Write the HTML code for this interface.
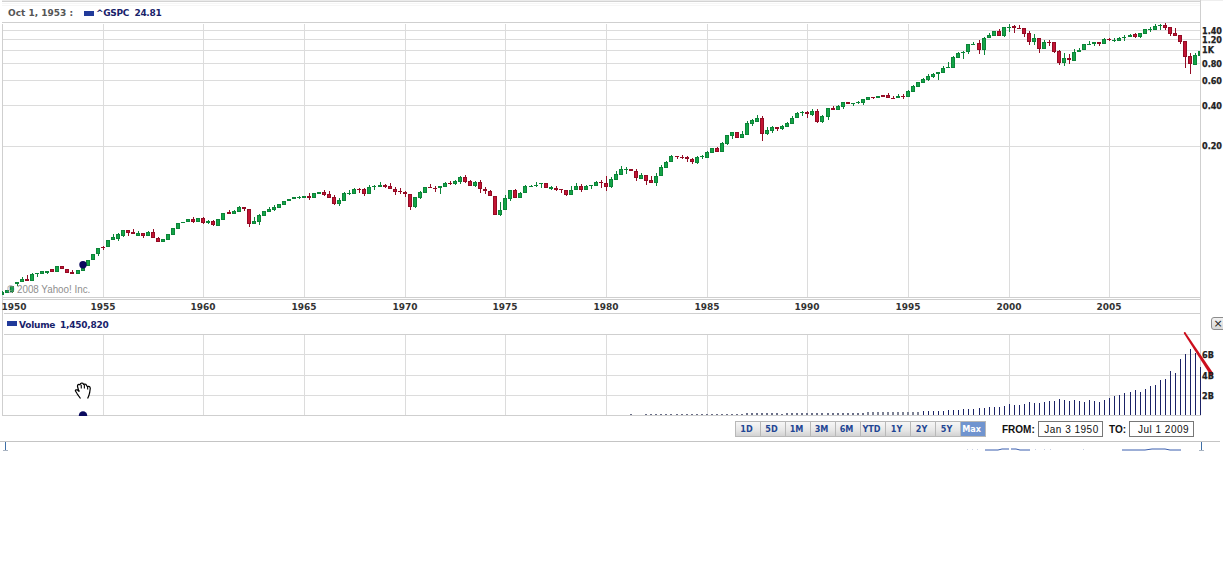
<!DOCTYPE html>
<html><head><meta charset="utf-8"><title>^GSPC chart</title>
<style>
html,body{margin:0;padding:0;background:#fff;width:1223px;height:572px;overflow:hidden;position:relative}
.t{position:absolute;white-space:nowrap;font-family:"DejaVu Sans",sans-serif;font-weight:bold;line-height:1}
.c{font-family:"DejaVu Sans Condensed","DejaVu Sans",sans-serif;font-stretch:condensed}
svg{position:absolute;left:0;top:0}
.btns{position:absolute;left:735px;top:421px;height:14px;display:flex;border:1px solid #b8b8b8;border-right:none}
.btns span{display:block;width:21px;padding-right:3px;height:14px;border-right:1px solid #b8b8b8;background:linear-gradient(#f6f6f6,#e6e6e6 60%,#d2d2d2);color:#1f4694;font:bold 9px "DejaVu Sans Condensed","DejaVu Sans",sans-serif;font-stretch:condensed;text-align:center;line-height:14.5px}
.btns span.on{background:#7094cf;color:#fff}
.inp{position:absolute;top:421px;height:14px;border:1px solid #777;background:#fff;font:10px "Liberation Sans",Arial,sans-serif;letter-spacing:0.5px;line-height:16px;text-align:center;color:#111}
.lbl{position:absolute;top:425px;font:bold 10px "Liberation Sans",Arial,sans-serif;color:#111;line-height:1}
</style></head><body>
<svg width="1223" height="572" viewBox="0 0 1223 572" shape-rendering="crispEdges">
<rect x="2" y="30" width="1198" height="1" fill="#dcdcdc"/><rect x="2" y="39" width="1198" height="1" fill="#dcdcdc"/><rect x="2" y="50" width="1198" height="1" fill="#dcdcdc"/><rect x="2" y="63" width="1198" height="1" fill="#dcdcdc"/><rect x="2" y="80" width="1198" height="1" fill="#dcdcdc"/><rect x="2" y="105" width="1198" height="1" fill="#dcdcdc"/><rect x="2" y="146" width="1198" height="1" fill="#dcdcdc"/><rect x="103" y="24" width="1" height="273" fill="#dcdcdc"/><rect x="103" y="335" width="1" height="80" fill="#dcdcdc"/><rect x="203" y="24" width="1" height="273" fill="#dcdcdc"/><rect x="203" y="335" width="1" height="80" fill="#dcdcdc"/><rect x="304" y="24" width="1" height="273" fill="#dcdcdc"/><rect x="304" y="335" width="1" height="80" fill="#dcdcdc"/><rect x="405" y="24" width="1" height="273" fill="#dcdcdc"/><rect x="405" y="335" width="1" height="80" fill="#dcdcdc"/><rect x="505" y="24" width="1" height="273" fill="#dcdcdc"/><rect x="505" y="335" width="1" height="80" fill="#dcdcdc"/><rect x="606" y="24" width="1" height="273" fill="#dcdcdc"/><rect x="606" y="335" width="1" height="80" fill="#dcdcdc"/><rect x="707" y="24" width="1" height="273" fill="#dcdcdc"/><rect x="707" y="335" width="1" height="80" fill="#dcdcdc"/><rect x="807" y="24" width="1" height="273" fill="#dcdcdc"/><rect x="807" y="335" width="1" height="80" fill="#dcdcdc"/><rect x="908" y="24" width="1" height="273" fill="#dcdcdc"/><rect x="908" y="335" width="1" height="80" fill="#dcdcdc"/><rect x="1009" y="24" width="1" height="273" fill="#dcdcdc"/><rect x="1009" y="335" width="1" height="80" fill="#dcdcdc"/><rect x="1109" y="24" width="1" height="273" fill="#dcdcdc"/><rect x="1109" y="335" width="1" height="80" fill="#dcdcdc"/><rect x="2" y="354" width="1198" height="1" fill="#dcdcdc"/><rect x="2" y="375" width="1198" height="1" fill="#dcdcdc"/><rect x="2" y="395" width="1198" height="1" fill="#dcdcdc"/><rect x="2" y="0" width="1199" height="1" fill="#ebebeb"/><rect x="2" y="1" width="1199" height="1" fill="#d3d3d3"/><rect x="2" y="3" width="1198" height="1" fill="#f6f6f6"/><rect x="2" y="5" width="1198" height="1" fill="#f6f6f6"/><rect x="1201" y="0" width="22" height="1" fill="#eeeeee"/><rect x="2" y="22" width="1199" height="1" fill="#cfcfcf"/><rect x="2" y="24" width="1" height="392" fill="#cfcfcf"/><rect x="1200" y="0" width="1" height="416" fill="#cfcfcf"/><rect x="2" y="297" width="1199" height="1" fill="#cfcfcf"/><rect x="2" y="299" width="1199" height="1" fill="#cfcfcf"/><rect x="4" y="313" width="1197" height="1" fill="#cfcfcf"/><rect x="4" y="334" width="1197" height="1" fill="#cfcfcf"/><rect x="2" y="415" width="1199" height="1" fill="#cfcfcf"/><rect x="0" y="441" width="1220" height="1" fill="#c4c4c4"/><rect x="5" y="442" width="1" height="9" fill="#3f6fa6"/><rect x="3" y="450" width="5" height="1" fill="#a9b4c2"/><rect x="1201" y="442" width="1" height="9" fill="#3f6fa6"/><rect x="1199" y="450" width="5" height="1" fill="#a9b4c2"/>
<rect x="630" y="414" width="2" height="1" fill="#6b7088"/><rect x="645" y="414" width="2" height="1" fill="#6b7088"/><rect x="650" y="414" width="2" height="1" fill="#6b7088"/><rect x="655" y="414" width="2" height="1" fill="#6b7088"/><rect x="660" y="414" width="2" height="1" fill="#6b7088"/><rect x="665" y="414" width="2" height="1" fill="#6b7088"/><rect x="670" y="414" width="2" height="1" fill="#6b7088"/><rect x="676" y="414" width="2" height="1" fill="#6b7088"/><rect x="681" y="414" width="2" height="1" fill="#6b7088"/><rect x="686" y="414" width="2" height="1" fill="#6b7088"/><rect x="691" y="414" width="2" height="1" fill="#6b7088"/><rect x="696" y="414" width="2" height="1" fill="#6b7088"/><rect x="701" y="414" width="2" height="1" fill="#6b7088"/><rect x="706" y="414" width="2" height="1" fill="#6b7088"/><rect x="711" y="414" width="2" height="1" fill="#6b7088"/><rect x="716" y="414" width="2" height="1" fill="#6b7088"/><rect x="721" y="414" width="2" height="1" fill="#6b7088"/><rect x="726" y="414" width="2" height="1" fill="#6b7088"/><rect x="731" y="414" width="2" height="1" fill="#6b7088"/><rect x="736" y="414" width="2" height="1" fill="#6b7088"/><rect x="741" y="414" width="2" height="1" fill="#6b7088"/><rect x="746" y="413" width="2" height="2" fill="#6b7088"/><rect x="751" y="413" width="2" height="2" fill="#6b7088"/><rect x="756" y="413" width="2" height="2" fill="#6b7088"/><rect x="761" y="413" width="2" height="2" fill="#6b7088"/><rect x="766" y="413" width="2" height="2" fill="#6b7088"/><rect x="771" y="413" width="2" height="2" fill="#6b7088"/><rect x="776" y="413" width="2" height="2" fill="#6b7088"/><rect x="781" y="414" width="2" height="1" fill="#6b7088"/><rect x="786" y="413" width="2" height="2" fill="#6b7088"/><rect x="791" y="413" width="2" height="2" fill="#6b7088"/><rect x="796" y="413" width="2" height="2" fill="#6b7088"/><rect x="801" y="413" width="2" height="2" fill="#6b7088"/><rect x="806" y="413" width="2" height="2" fill="#6b7088"/><rect x="811" y="413" width="2" height="2" fill="#6b7088"/><rect x="816" y="413" width="2" height="2" fill="#6b7088"/><rect x="821" y="413" width="2" height="2" fill="#6b7088"/><rect x="827" y="413" width="2" height="2" fill="#6b7088"/><rect x="832" y="413" width="2" height="2" fill="#6b7088"/><rect x="837" y="413" width="2" height="2" fill="#6b7088"/><rect x="842" y="413" width="2" height="2" fill="#6b7088"/><rect x="847" y="413" width="2" height="2" fill="#6b7088"/><rect x="852" y="413" width="2" height="2" fill="#6b7088"/><rect x="857" y="413" width="2" height="2" fill="#6b7088"/><rect x="862" y="413" width="2" height="2" fill="#6b7088"/><rect x="867" y="412" width="2" height="3" fill="#7d8295"/><rect x="872" y="412" width="2" height="3" fill="#7d8295"/><rect x="877" y="412" width="2" height="3" fill="#7d8295"/><rect x="882" y="412" width="2" height="3" fill="#7d8295"/><rect x="887" y="412" width="2" height="3" fill="#7d8295"/><rect x="892" y="412" width="2" height="3" fill="#7d8295"/><rect x="897" y="412" width="2" height="3" fill="#7d8295"/><rect x="902" y="412" width="2" height="3" fill="#7d8295"/><rect x="907" y="412" width="2" height="3" fill="#7d8295"/><rect x="912" y="412" width="2" height="3" fill="#7d8295"/><rect x="917" y="412" width="2" height="3" fill="#7d8295"/><rect x="923" y="411" width="1" height="4" fill="#1b2266"/><rect x="928" y="411" width="1" height="4" fill="#1b2266"/><rect x="933" y="411" width="1" height="4" fill="#1b2266"/><rect x="938" y="411" width="1" height="4" fill="#1b2266"/><rect x="943" y="411" width="1" height="4" fill="#1b2266"/><rect x="948" y="410" width="1" height="5" fill="#1b2266"/><rect x="953" y="410" width="1" height="5" fill="#1b2266"/><rect x="958" y="410" width="1" height="5" fill="#1b2266"/><rect x="963" y="409" width="1" height="6" fill="#1b2266"/><rect x="968" y="409" width="1" height="6" fill="#1b2266"/><rect x="973" y="409" width="1" height="6" fill="#1b2266"/><rect x="979" y="408" width="1" height="7" fill="#1b2266"/><rect x="984" y="408" width="1" height="7" fill="#1b2266"/><rect x="989" y="407" width="1" height="8" fill="#1b2266"/><rect x="994" y="407" width="1" height="8" fill="#1b2266"/><rect x="999" y="407" width="1" height="8" fill="#1b2266"/><rect x="1004" y="406" width="1" height="9" fill="#1b2266"/><rect x="1009" y="404" width="1" height="11" fill="#1b2266"/><rect x="1014" y="405" width="1" height="10" fill="#1b2266"/><rect x="1019" y="405" width="1" height="10" fill="#1b2266"/><rect x="1024" y="404" width="1" height="11" fill="#1b2266"/><rect x="1029" y="402" width="1" height="13" fill="#1b2266"/><rect x="1034" y="403" width="1" height="12" fill="#1b2266"/><rect x="1039" y="403" width="1" height="12" fill="#1b2266"/><rect x="1044" y="402" width="1" height="13" fill="#1b2266"/><rect x="1049" y="401" width="1" height="14" fill="#1b2266"/><rect x="1054" y="401" width="1" height="14" fill="#1b2266"/><rect x="1059" y="399" width="1" height="16" fill="#1b2266"/><rect x="1064" y="400" width="1" height="15" fill="#1b2266"/><rect x="1069" y="401" width="1" height="14" fill="#1b2266"/><rect x="1074" y="400" width="1" height="15" fill="#1b2266"/><rect x="1079" y="401" width="1" height="14" fill="#1b2266"/><rect x="1084" y="402" width="1" height="13" fill="#1b2266"/><rect x="1089" y="400" width="1" height="15" fill="#1b2266"/><rect x="1094" y="401" width="1" height="14" fill="#1b2266"/><rect x="1099" y="402" width="1" height="13" fill="#1b2266"/><rect x="1104" y="400" width="1" height="15" fill="#1b2266"/><rect x="1109" y="398" width="1" height="17" fill="#1b2266"/><rect x="1114" y="396" width="1" height="19" fill="#1b2266"/><rect x="1119" y="395" width="1" height="20" fill="#1b2266"/><rect x="1124" y="393" width="1" height="22" fill="#1b2266"/><rect x="1130" y="392" width="1" height="23" fill="#1b2266"/><rect x="1135" y="390" width="1" height="25" fill="#1b2266"/><rect x="1140" y="392" width="1" height="23" fill="#1b2266"/><rect x="1145" y="389" width="1" height="26" fill="#1b2266"/><rect x="1150" y="386" width="1" height="29" fill="#1b2266"/><rect x="1155" y="385" width="1" height="30" fill="#1b2266"/><rect x="1160" y="380" width="1" height="35" fill="#1b2266"/><rect x="1165" y="379" width="1" height="36" fill="#1b2266"/><rect x="1170" y="371" width="1" height="44" fill="#1b2266"/><rect x="1175" y="373" width="1" height="42" fill="#1b2266"/><rect x="1180" y="359" width="1" height="56" fill="#1b2266"/><rect x="1185" y="354" width="1" height="61" fill="#1b2266"/><rect x="1190" y="349" width="1" height="66" fill="#1b2266"/><rect x="1195" y="353" width="1" height="62" fill="#1b2266"/><rect x="1200" y="367" width="1" height="48" fill="#1b2266"/>
<rect x="2" y="291" width="1" height="1" fill="#0c8438"/><rect x="2" y="292" width="2" height="3" fill="#0c8438"/><rect x="5" y="290" width="4" height="3" fill="#0c8438"/><rect x="6" y="291" width="2" height="1" fill="#13a447"/><rect x="12" y="292" width="1" height="1" fill="#0c8438"/><rect x="10" y="286" width="4" height="6" fill="#0c8438"/><rect x="11" y="287" width="2" height="4" fill="#13a447"/><rect x="17" y="284" width="1" height="2" fill="#0c8438"/><rect x="15" y="282" width="4" height="2" fill="#0c8438"/><rect x="22" y="277" width="1" height="2" fill="#0c8438"/><rect x="20" y="279" width="4" height="3" fill="#0c8438"/><rect x="21" y="280" width="2" height="1" fill="#13a447"/><rect x="27" y="275" width="1" height="4" fill="#930c25"/><rect x="25" y="279" width="4" height="2" fill="#930c25"/><rect x="32" y="273" width="1" height="1" fill="#0c8438"/><rect x="30" y="274" width="4" height="7" fill="#0c8438"/><rect x="31" y="275" width="2" height="5" fill="#13a447"/><rect x="37" y="274" width="1" height="3" fill="#0c8438"/><rect x="35" y="273" width="4" height="1" fill="#0c8438"/><rect x="40" y="271" width="4" height="3" fill="#0c8438"/><rect x="41" y="272" width="2" height="1" fill="#13a447"/><rect x="47" y="273" width="1" height="1" fill="#0c8438"/><rect x="45" y="271" width="4" height="2" fill="#0c8438"/><rect x="50" y="269" width="4" height="3" fill="#930c25"/><rect x="51" y="270" width="2" height="1" fill="#c31433"/><rect x="55" y="266" width="4" height="6" fill="#0c8438"/><rect x="56" y="267" width="2" height="4" fill="#13a447"/><rect x="60" y="266" width="4" height="3" fill="#930c25"/><rect x="61" y="267" width="2" height="1" fill="#c31433"/><rect x="65" y="269" width="4" height="4" fill="#930c25"/><rect x="66" y="270" width="2" height="2" fill="#c31433"/><rect x="72" y="270" width="1" height="2" fill="#930c25"/><rect x="70" y="272" width="4" height="2" fill="#930c25"/><rect x="76" y="270" width="4" height="4" fill="#0c8438"/><rect x="77" y="271" width="2" height="2" fill="#13a447"/><rect x="81" y="268" width="4" height="3" fill="#0c8438"/><rect x="82" y="269" width="2" height="1" fill="#13a447"/><rect x="86" y="260" width="4" height="6" fill="#0c8438"/><rect x="87" y="261" width="2" height="4" fill="#13a447"/><rect x="91" y="254" width="4" height="6" fill="#0c8438"/><rect x="92" y="255" width="2" height="4" fill="#13a447"/><rect x="98" y="254" width="1" height="2" fill="#0c8438"/><rect x="96" y="248" width="4" height="6" fill="#0c8438"/><rect x="97" y="249" width="2" height="4" fill="#13a447"/><rect x="103" y="246" width="1" height="1" fill="#930c25"/><rect x="103" y="248" width="1" height="2" fill="#930c25"/><rect x="101" y="247" width="4" height="1" fill="#930c25"/><rect x="106" y="240" width="4" height="7" fill="#0c8438"/><rect x="107" y="241" width="2" height="5" fill="#13a447"/><rect x="113" y="234" width="1" height="3" fill="#0c8438"/><rect x="111" y="237" width="4" height="3" fill="#0c8438"/><rect x="112" y="238" width="2" height="1" fill="#13a447"/><rect x="118" y="233" width="1" height="1" fill="#0c8438"/><rect x="118" y="239" width="1" height="2" fill="#0c8438"/><rect x="116" y="234" width="4" height="5" fill="#0c8438"/><rect x="117" y="235" width="2" height="3" fill="#13a447"/><rect x="123" y="236" width="1" height="1" fill="#0c8438"/><rect x="121" y="230" width="4" height="6" fill="#0c8438"/><rect x="122" y="231" width="2" height="4" fill="#13a447"/><rect x="128" y="233" width="1" height="3" fill="#930c25"/><rect x="126" y="230" width="4" height="3" fill="#930c25"/><rect x="127" y="231" width="2" height="1" fill="#c31433"/><rect x="133" y="229" width="1" height="3" fill="#930c25"/><rect x="131" y="232" width="4" height="2" fill="#930c25"/><rect x="138" y="231" width="1" height="2" fill="#0c8438"/><rect x="136" y="233" width="4" height="3" fill="#0c8438"/><rect x="137" y="234" width="2" height="1" fill="#13a447"/><rect x="143" y="236" width="1" height="2" fill="#930c25"/><rect x="141" y="233" width="4" height="3" fill="#930c25"/><rect x="142" y="234" width="2" height="1" fill="#c31433"/><rect x="148" y="231" width="1" height="1" fill="#0c8438"/><rect x="146" y="232" width="4" height="4" fill="#0c8438"/><rect x="147" y="233" width="2" height="2" fill="#13a447"/><rect x="153" y="229" width="1" height="3" fill="#930c25"/><rect x="151" y="232" width="4" height="6" fill="#930c25"/><rect x="152" y="233" width="2" height="4" fill="#c31433"/><rect x="158" y="237" width="1" height="1" fill="#930c25"/><rect x="156" y="238" width="4" height="4" fill="#930c25"/><rect x="157" y="239" width="2" height="2" fill="#c31433"/><rect x="161" y="239" width="4" height="3" fill="#0c8438"/><rect x="162" y="240" width="2" height="1" fill="#13a447"/><rect x="166" y="234" width="4" height="6" fill="#0c8438"/><rect x="167" y="235" width="2" height="4" fill="#13a447"/><rect x="171" y="228" width="4" height="7" fill="#0c8438"/><rect x="172" y="229" width="2" height="5" fill="#13a447"/><rect x="176" y="223" width="4" height="6" fill="#0c8438"/><rect x="177" y="224" width="2" height="4" fill="#13a447"/><rect x="181" y="222" width="4" height="1" fill="#0c8438"/><rect x="186" y="219" width="4" height="3" fill="#0c8438"/><rect x="187" y="220" width="2" height="1" fill="#13a447"/><rect x="193" y="217" width="1" height="2" fill="#930c25"/><rect x="193" y="222" width="1" height="1" fill="#930c25"/><rect x="191" y="219" width="4" height="3" fill="#930c25"/><rect x="192" y="220" width="2" height="1" fill="#c31433"/><rect x="196" y="218" width="4" height="4" fill="#0c8438"/><rect x="197" y="219" width="2" height="2" fill="#13a447"/><rect x="203" y="217" width="1" height="1" fill="#930c25"/><rect x="203" y="223" width="1" height="1" fill="#930c25"/><rect x="201" y="218" width="4" height="5" fill="#930c25"/><rect x="202" y="219" width="2" height="3" fill="#c31433"/><rect x="208" y="220" width="1" height="1" fill="#0c8438"/><rect x="208" y="223" width="1" height="1" fill="#0c8438"/><rect x="206" y="221" width="4" height="2" fill="#0c8438"/><rect x="213" y="220" width="1" height="1" fill="#930c25"/><rect x="213" y="225" width="1" height="1" fill="#930c25"/><rect x="211" y="221" width="4" height="4" fill="#930c25"/><rect x="212" y="222" width="2" height="2" fill="#c31433"/><rect x="216" y="219" width="4" height="7" fill="#0c8438"/><rect x="217" y="220" width="2" height="5" fill="#13a447"/><rect x="221" y="213" width="4" height="7" fill="#0c8438"/><rect x="222" y="214" width="2" height="5" fill="#13a447"/><rect x="229" y="210" width="1" height="2" fill="#930c25"/><rect x="227" y="212" width="4" height="2" fill="#930c25"/><rect x="234" y="210" width="1" height="1" fill="#0c8438"/><rect x="232" y="211" width="4" height="3" fill="#0c8438"/><rect x="233" y="212" width="2" height="1" fill="#13a447"/><rect x="239" y="206" width="1" height="1" fill="#0c8438"/><rect x="237" y="207" width="4" height="5" fill="#0c8438"/><rect x="238" y="208" width="2" height="3" fill="#13a447"/><rect x="244" y="209" width="1" height="2" fill="#930c25"/><rect x="242" y="207" width="4" height="2" fill="#930c25"/><rect x="249" y="224" width="1" height="3" fill="#930c25"/><rect x="247" y="209" width="4" height="15" fill="#930c25"/><rect x="248" y="210" width="2" height="13" fill="#c31433"/><rect x="254" y="217" width="1" height="4" fill="#0c8438"/><rect x="252" y="221" width="4" height="3" fill="#0c8438"/><rect x="253" y="222" width="2" height="1" fill="#13a447"/><rect x="259" y="214" width="1" height="1" fill="#0c8438"/><rect x="259" y="222" width="1" height="3" fill="#0c8438"/><rect x="257" y="215" width="4" height="7" fill="#0c8438"/><rect x="258" y="216" width="2" height="5" fill="#13a447"/><rect x="262" y="211" width="4" height="5" fill="#0c8438"/><rect x="263" y="212" width="2" height="3" fill="#13a447"/><rect x="269" y="207" width="1" height="2" fill="#0c8438"/><rect x="267" y="209" width="4" height="3" fill="#0c8438"/><rect x="268" y="210" width="2" height="1" fill="#13a447"/><rect x="274" y="205" width="1" height="2" fill="#0c8438"/><rect x="274" y="210" width="1" height="1" fill="#0c8438"/><rect x="272" y="207" width="4" height="3" fill="#0c8438"/><rect x="273" y="208" width="2" height="1" fill="#13a447"/><rect x="277" y="204" width="4" height="4" fill="#0c8438"/><rect x="278" y="205" width="2" height="2" fill="#13a447"/><rect x="282" y="201" width="4" height="4" fill="#0c8438"/><rect x="283" y="202" width="2" height="2" fill="#13a447"/><rect x="287" y="199" width="4" height="2" fill="#0c8438"/><rect x="292" y="197" width="4" height="2" fill="#0c8438"/><rect x="299" y="196" width="1" height="1" fill="#0c8438"/><rect x="299" y="198" width="1" height="1" fill="#0c8438"/><rect x="297" y="197" width="4" height="1" fill="#0c8438"/><rect x="302" y="196" width="4" height="2" fill="#0c8438"/><rect x="309" y="193" width="1" height="3" fill="#930c25"/><rect x="309" y="198" width="1" height="2" fill="#930c25"/><rect x="307" y="196" width="4" height="2" fill="#930c25"/><rect x="312" y="193" width="4" height="5" fill="#0c8438"/><rect x="313" y="194" width="2" height="3" fill="#13a447"/><rect x="317" y="192" width="4" height="2" fill="#0c8438"/><rect x="324" y="190" width="1" height="2" fill="#930c25"/><rect x="324" y="195" width="1" height="1" fill="#930c25"/><rect x="322" y="192" width="4" height="3" fill="#930c25"/><rect x="323" y="193" width="2" height="1" fill="#c31433"/><rect x="329" y="191" width="1" height="3" fill="#930c25"/><rect x="327" y="194" width="4" height="4" fill="#930c25"/><rect x="328" y="195" width="2" height="2" fill="#c31433"/><rect x="334" y="195" width="1" height="2" fill="#930c25"/><rect x="334" y="204" width="1" height="1" fill="#930c25"/><rect x="332" y="197" width="4" height="7" fill="#930c25"/><rect x="333" y="198" width="2" height="5" fill="#c31433"/><rect x="339" y="198" width="1" height="2" fill="#0c8438"/><rect x="339" y="204" width="1" height="2" fill="#0c8438"/><rect x="337" y="200" width="4" height="4" fill="#0c8438"/><rect x="338" y="201" width="2" height="2" fill="#13a447"/><rect x="344" y="192" width="1" height="1" fill="#0c8438"/><rect x="342" y="193" width="4" height="8" fill="#0c8438"/><rect x="343" y="194" width="2" height="6" fill="#13a447"/><rect x="349" y="190" width="1" height="3" fill="#0c8438"/><rect x="349" y="194" width="1" height="1" fill="#0c8438"/><rect x="347" y="193" width="4" height="1" fill="#0c8438"/><rect x="354" y="188" width="1" height="1" fill="#0c8438"/><rect x="352" y="189" width="4" height="5" fill="#0c8438"/><rect x="353" y="190" width="2" height="3" fill="#13a447"/><rect x="359" y="188" width="1" height="1" fill="#930c25"/><rect x="359" y="190" width="1" height="3" fill="#930c25"/><rect x="357" y="189" width="4" height="1" fill="#930c25"/><rect x="364" y="188" width="1" height="1" fill="#930c25"/><rect x="364" y="194" width="1" height="2" fill="#930c25"/><rect x="362" y="189" width="4" height="5" fill="#930c25"/><rect x="363" y="190" width="2" height="3" fill="#c31433"/><rect x="369" y="185" width="1" height="2" fill="#0c8438"/><rect x="367" y="187" width="4" height="7" fill="#0c8438"/><rect x="368" y="188" width="2" height="5" fill="#13a447"/><rect x="374" y="185" width="1" height="1" fill="#0c8438"/><rect x="374" y="187" width="1" height="3" fill="#0c8438"/><rect x="372" y="186" width="4" height="1" fill="#0c8438"/><rect x="380" y="182" width="1" height="3" fill="#0c8438"/><rect x="378" y="185" width="4" height="2" fill="#0c8438"/><rect x="385" y="184" width="1" height="1" fill="#930c25"/><rect x="385" y="187" width="1" height="1" fill="#930c25"/><rect x="383" y="185" width="4" height="2" fill="#930c25"/><rect x="390" y="183" width="1" height="3" fill="#930c25"/><rect x="388" y="186" width="4" height="3" fill="#930c25"/><rect x="389" y="187" width="2" height="1" fill="#c31433"/><rect x="395" y="187" width="1" height="2" fill="#930c25"/><rect x="395" y="192" width="1" height="3" fill="#930c25"/><rect x="393" y="189" width="4" height="3" fill="#930c25"/><rect x="394" y="190" width="2" height="1" fill="#c31433"/><rect x="400" y="188" width="1" height="3" fill="#930c25"/><rect x="400" y="192" width="1" height="2" fill="#930c25"/><rect x="398" y="191" width="4" height="1" fill="#930c25"/><rect x="405" y="191" width="1" height="1" fill="#930c25"/><rect x="405" y="194" width="1" height="3" fill="#930c25"/><rect x="403" y="192" width="4" height="2" fill="#930c25"/><rect x="410" y="207" width="1" height="3" fill="#930c25"/><rect x="408" y="194" width="4" height="13" fill="#930c25"/><rect x="409" y="195" width="2" height="11" fill="#c31433"/><rect x="415" y="207" width="1" height="1" fill="#0c8438"/><rect x="413" y="197" width="4" height="10" fill="#0c8438"/><rect x="414" y="198" width="2" height="8" fill="#13a447"/><rect x="420" y="191" width="1" height="1" fill="#0c8438"/><rect x="420" y="198" width="1" height="1" fill="#0c8438"/><rect x="418" y="192" width="4" height="6" fill="#0c8438"/><rect x="419" y="193" width="2" height="4" fill="#13a447"/><rect x="423" y="187" width="4" height="6" fill="#0c8438"/><rect x="424" y="188" width="2" height="4" fill="#13a447"/><rect x="430" y="184" width="1" height="3" fill="#930c25"/><rect x="428" y="187" width="4" height="1" fill="#930c25"/><rect x="435" y="186" width="1" height="2" fill="#930c25"/><rect x="435" y="189" width="1" height="3" fill="#930c25"/><rect x="433" y="188" width="4" height="1" fill="#930c25"/><rect x="440" y="188" width="1" height="6" fill="#0c8438"/><rect x="438" y="186" width="4" height="2" fill="#0c8438"/><rect x="445" y="182" width="1" height="1" fill="#0c8438"/><rect x="443" y="183" width="4" height="4" fill="#0c8438"/><rect x="444" y="184" width="2" height="2" fill="#13a447"/><rect x="450" y="181" width="1" height="2" fill="#930c25"/><rect x="450" y="184" width="1" height="1" fill="#930c25"/><rect x="448" y="183" width="4" height="1" fill="#930c25"/><rect x="455" y="180" width="1" height="1" fill="#0c8438"/><rect x="455" y="184" width="1" height="1" fill="#0c8438"/><rect x="453" y="181" width="4" height="3" fill="#0c8438"/><rect x="454" y="182" width="2" height="1" fill="#13a447"/><rect x="460" y="176" width="1" height="1" fill="#0c8438"/><rect x="460" y="182" width="1" height="2" fill="#0c8438"/><rect x="458" y="177" width="4" height="5" fill="#0c8438"/><rect x="459" y="178" width="2" height="3" fill="#13a447"/><rect x="465" y="175" width="1" height="2" fill="#930c25"/><rect x="465" y="182" width="1" height="1" fill="#930c25"/><rect x="463" y="177" width="4" height="5" fill="#930c25"/><rect x="464" y="178" width="2" height="3" fill="#c31433"/><rect x="470" y="180" width="1" height="1" fill="#930c25"/><rect x="468" y="181" width="4" height="5" fill="#930c25"/><rect x="469" y="182" width="2" height="3" fill="#c31433"/><rect x="475" y="181" width="1" height="1" fill="#0c8438"/><rect x="475" y="186" width="1" height="1" fill="#0c8438"/><rect x="473" y="182" width="4" height="4" fill="#0c8438"/><rect x="474" y="183" width="2" height="2" fill="#13a447"/><rect x="480" y="180" width="1" height="2" fill="#930c25"/><rect x="480" y="189" width="1" height="4" fill="#930c25"/><rect x="478" y="182" width="4" height="7" fill="#930c25"/><rect x="479" y="183" width="2" height="5" fill="#c31433"/><rect x="485" y="187" width="1" height="2" fill="#930c25"/><rect x="485" y="191" width="1" height="3" fill="#930c25"/><rect x="483" y="189" width="4" height="2" fill="#930c25"/><rect x="490" y="190" width="1" height="1" fill="#930c25"/><rect x="488" y="191" width="4" height="5" fill="#930c25"/><rect x="489" y="192" width="2" height="3" fill="#c31433"/><rect x="493" y="196" width="4" height="19" fill="#930c25"/><rect x="494" y="197" width="2" height="17" fill="#c31433"/><rect x="500" y="202" width="1" height="8" fill="#0c8438"/><rect x="500" y="215" width="1" height="1" fill="#0c8438"/><rect x="498" y="210" width="4" height="5" fill="#0c8438"/><rect x="499" y="211" width="2" height="3" fill="#13a447"/><rect x="505" y="195" width="1" height="3" fill="#0c8438"/><rect x="503" y="198" width="4" height="12" fill="#0c8438"/><rect x="504" y="199" width="2" height="10" fill="#13a447"/><rect x="510" y="199" width="1" height="2" fill="#0c8438"/><rect x="508" y="190" width="4" height="9" fill="#0c8438"/><rect x="509" y="191" width="2" height="7" fill="#13a447"/><rect x="515" y="189" width="1" height="1" fill="#930c25"/><rect x="513" y="190" width="4" height="8" fill="#930c25"/><rect x="514" y="191" width="2" height="6" fill="#c31433"/><rect x="520" y="192" width="1" height="1" fill="#0c8438"/><rect x="518" y="193" width="4" height="5" fill="#0c8438"/><rect x="519" y="194" width="2" height="3" fill="#13a447"/><rect x="525" y="185" width="1" height="1" fill="#0c8438"/><rect x="523" y="186" width="4" height="7" fill="#0c8438"/><rect x="524" y="187" width="2" height="5" fill="#13a447"/><rect x="531" y="185" width="1" height="1" fill="#0c8438"/><rect x="529" y="186" width="4" height="1" fill="#0c8438"/><rect x="536" y="182" width="1" height="3" fill="#0c8438"/><rect x="536" y="186" width="1" height="1" fill="#0c8438"/><rect x="534" y="185" width="4" height="1" fill="#0c8438"/><rect x="541" y="184" width="1" height="4" fill="#0c8438"/><rect x="539" y="183" width="4" height="1" fill="#0c8438"/><rect x="544" y="183" width="4" height="5" fill="#930c25"/><rect x="545" y="184" width="2" height="3" fill="#c31433"/><rect x="551" y="186" width="1" height="1" fill="#0c8438"/><rect x="551" y="189" width="1" height="1" fill="#0c8438"/><rect x="549" y="187" width="4" height="2" fill="#0c8438"/><rect x="556" y="186" width="1" height="2" fill="#930c25"/><rect x="556" y="190" width="1" height="1" fill="#930c25"/><rect x="554" y="188" width="4" height="2" fill="#930c25"/><rect x="561" y="190" width="1" height="3" fill="#930c25"/><rect x="559" y="189" width="4" height="1" fill="#930c25"/><rect x="566" y="195" width="1" height="1" fill="#930c25"/><rect x="564" y="190" width="4" height="5" fill="#930c25"/><rect x="565" y="191" width="2" height="3" fill="#c31433"/><rect x="571" y="186" width="1" height="4" fill="#0c8438"/><rect x="569" y="190" width="4" height="5" fill="#0c8438"/><rect x="570" y="191" width="2" height="3" fill="#13a447"/><rect x="576" y="183" width="1" height="3" fill="#0c8438"/><rect x="574" y="186" width="4" height="4" fill="#0c8438"/><rect x="575" y="187" width="2" height="2" fill="#13a447"/><rect x="581" y="184" width="1" height="2" fill="#930c25"/><rect x="581" y="190" width="1" height="2" fill="#930c25"/><rect x="579" y="186" width="4" height="4" fill="#930c25"/><rect x="580" y="187" width="2" height="2" fill="#c31433"/><rect x="586" y="185" width="1" height="1" fill="#0c8438"/><rect x="584" y="186" width="4" height="4" fill="#0c8438"/><rect x="585" y="187" width="2" height="2" fill="#13a447"/><rect x="591" y="186" width="1" height="3" fill="#0c8438"/><rect x="589" y="185" width="4" height="1" fill="#0c8438"/><rect x="596" y="181" width="1" height="1" fill="#0c8438"/><rect x="594" y="182" width="4" height="4" fill="#0c8438"/><rect x="595" y="183" width="2" height="2" fill="#13a447"/><rect x="601" y="180" width="1" height="2" fill="#930c25"/><rect x="601" y="183" width="1" height="5" fill="#930c25"/><rect x="599" y="182" width="4" height="1" fill="#930c25"/><rect x="606" y="176" width="1" height="7" fill="#930c25"/><rect x="606" y="187" width="1" height="4" fill="#930c25"/><rect x="604" y="183" width="4" height="4" fill="#930c25"/><rect x="605" y="184" width="2" height="2" fill="#c31433"/><rect x="611" y="177" width="1" height="2" fill="#0c8438"/><rect x="611" y="187" width="1" height="1" fill="#0c8438"/><rect x="609" y="179" width="4" height="8" fill="#0c8438"/><rect x="610" y="180" width="2" height="6" fill="#13a447"/><rect x="616" y="171" width="1" height="3" fill="#0c8438"/><rect x="614" y="174" width="4" height="6" fill="#0c8438"/><rect x="615" y="175" width="2" height="4" fill="#13a447"/><rect x="621" y="166" width="1" height="3" fill="#0c8438"/><rect x="619" y="169" width="4" height="6" fill="#0c8438"/><rect x="620" y="170" width="2" height="4" fill="#13a447"/><rect x="626" y="167" width="1" height="2" fill="#0c8438"/><rect x="626" y="170" width="1" height="4" fill="#0c8438"/><rect x="624" y="169" width="4" height="1" fill="#0c8438"/><rect x="629" y="169" width="4" height="2" fill="#930c25"/><rect x="636" y="169" width="1" height="2" fill="#930c25"/><rect x="636" y="178" width="1" height="3" fill="#930c25"/><rect x="634" y="171" width="4" height="7" fill="#930c25"/><rect x="635" y="172" width="2" height="5" fill="#c31433"/><rect x="641" y="173" width="1" height="2" fill="#0c8438"/><rect x="639" y="175" width="4" height="4" fill="#0c8438"/><rect x="640" y="176" width="2" height="2" fill="#13a447"/><rect x="646" y="181" width="1" height="4" fill="#930c25"/><rect x="644" y="175" width="4" height="6" fill="#930c25"/><rect x="645" y="176" width="2" height="4" fill="#c31433"/><rect x="651" y="176" width="1" height="4" fill="#930c25"/><rect x="649" y="180" width="4" height="3" fill="#930c25"/><rect x="650" y="181" width="2" height="1" fill="#c31433"/><rect x="656" y="173" width="1" height="3" fill="#0c8438"/><rect x="656" y="183" width="1" height="3" fill="#0c8438"/><rect x="654" y="176" width="4" height="7" fill="#0c8438"/><rect x="655" y="177" width="2" height="5" fill="#13a447"/><rect x="661" y="165" width="1" height="2" fill="#0c8438"/><rect x="659" y="167" width="4" height="9" fill="#0c8438"/><rect x="660" y="168" width="2" height="7" fill="#13a447"/><rect x="666" y="161" width="1" height="1" fill="#0c8438"/><rect x="664" y="162" width="4" height="6" fill="#0c8438"/><rect x="665" y="163" width="2" height="4" fill="#13a447"/><rect x="671" y="155" width="1" height="1" fill="#0c8438"/><rect x="669" y="156" width="4" height="6" fill="#0c8438"/><rect x="670" y="157" width="2" height="4" fill="#13a447"/><rect x="677" y="157" width="1" height="2" fill="#930c25"/><rect x="675" y="156" width="4" height="1" fill="#930c25"/><rect x="682" y="155" width="1" height="2" fill="#930c25"/><rect x="682" y="158" width="1" height="1" fill="#930c25"/><rect x="680" y="157" width="4" height="1" fill="#930c25"/><rect x="687" y="156" width="1" height="1" fill="#930c25"/><rect x="687" y="159" width="1" height="3" fill="#930c25"/><rect x="685" y="157" width="4" height="2" fill="#930c25"/><rect x="692" y="158" width="1" height="1" fill="#930c25"/><rect x="692" y="162" width="1" height="2" fill="#930c25"/><rect x="690" y="159" width="4" height="3" fill="#930c25"/><rect x="691" y="160" width="2" height="1" fill="#c31433"/><rect x="697" y="156" width="1" height="1" fill="#0c8438"/><rect x="697" y="163" width="1" height="1" fill="#0c8438"/><rect x="695" y="157" width="4" height="6" fill="#0c8438"/><rect x="696" y="158" width="2" height="4" fill="#13a447"/><rect x="702" y="155" width="1" height="1" fill="#0c8438"/><rect x="702" y="157" width="1" height="2" fill="#0c8438"/><rect x="700" y="156" width="4" height="1" fill="#0c8438"/><rect x="707" y="151" width="1" height="1" fill="#0c8438"/><rect x="705" y="152" width="4" height="6" fill="#0c8438"/><rect x="706" y="153" width="2" height="4" fill="#13a447"/><rect x="710" y="148" width="4" height="5" fill="#0c8438"/><rect x="711" y="149" width="2" height="3" fill="#13a447"/><rect x="717" y="147" width="1" height="1" fill="#930c25"/><rect x="715" y="148" width="4" height="4" fill="#930c25"/><rect x="716" y="149" width="2" height="2" fill="#c31433"/><rect x="722" y="142" width="1" height="1" fill="#0c8438"/><rect x="720" y="143" width="4" height="9" fill="#0c8438"/><rect x="721" y="144" width="2" height="7" fill="#13a447"/><rect x="727" y="144" width="1" height="1" fill="#0c8438"/><rect x="725" y="135" width="4" height="9" fill="#0c8438"/><rect x="726" y="136" width="2" height="7" fill="#13a447"/><rect x="732" y="136" width="1" height="3" fill="#0c8438"/><rect x="730" y="132" width="4" height="4" fill="#0c8438"/><rect x="731" y="133" width="2" height="2" fill="#13a447"/><rect x="735" y="132" width="4" height="6" fill="#930c25"/><rect x="736" y="133" width="2" height="4" fill="#c31433"/><rect x="742" y="131" width="1" height="3" fill="#0c8438"/><rect x="740" y="134" width="4" height="4" fill="#0c8438"/><rect x="741" y="135" width="2" height="2" fill="#13a447"/><rect x="747" y="121" width="1" height="2" fill="#0c8438"/><rect x="745" y="123" width="4" height="12" fill="#0c8438"/><rect x="746" y="124" width="2" height="10" fill="#13a447"/><rect x="752" y="119" width="1" height="1" fill="#0c8438"/><rect x="752" y="124" width="1" height="2" fill="#0c8438"/><rect x="750" y="120" width="4" height="4" fill="#0c8438"/><rect x="751" y="121" width="2" height="2" fill="#13a447"/><rect x="757" y="115" width="1" height="3" fill="#0c8438"/><rect x="755" y="118" width="4" height="4" fill="#0c8438"/><rect x="756" y="119" width="2" height="2" fill="#13a447"/><rect x="762" y="116" width="1" height="2" fill="#930c25"/><rect x="762" y="134" width="1" height="7" fill="#930c25"/><rect x="760" y="118" width="4" height="16" fill="#930c25"/><rect x="761" y="119" width="2" height="14" fill="#c31433"/><rect x="767" y="127" width="1" height="3" fill="#0c8438"/><rect x="767" y="134" width="1" height="1" fill="#0c8438"/><rect x="765" y="130" width="4" height="4" fill="#0c8438"/><rect x="766" y="131" width="2" height="2" fill="#13a447"/><rect x="772" y="126" width="1" height="1" fill="#0c8438"/><rect x="772" y="131" width="1" height="2" fill="#0c8438"/><rect x="770" y="127" width="4" height="4" fill="#0c8438"/><rect x="771" y="128" width="2" height="2" fill="#13a447"/><rect x="777" y="129" width="1" height="2" fill="#930c25"/><rect x="775" y="127" width="4" height="2" fill="#930c25"/><rect x="782" y="125" width="1" height="1" fill="#0c8438"/><rect x="782" y="129" width="1" height="1" fill="#0c8438"/><rect x="780" y="126" width="4" height="3" fill="#0c8438"/><rect x="781" y="127" width="2" height="1" fill="#13a447"/><rect x="787" y="122" width="1" height="1" fill="#0c8438"/><rect x="785" y="123" width="4" height="4" fill="#0c8438"/><rect x="786" y="124" width="2" height="2" fill="#13a447"/><rect x="792" y="116" width="1" height="2" fill="#0c8438"/><rect x="790" y="118" width="4" height="6" fill="#0c8438"/><rect x="791" y="119" width="2" height="4" fill="#13a447"/><rect x="797" y="112" width="1" height="1" fill="#0c8438"/><rect x="795" y="113" width="4" height="5" fill="#0c8438"/><rect x="796" y="114" width="2" height="3" fill="#13a447"/><rect x="802" y="111" width="1" height="1" fill="#0c8438"/><rect x="802" y="113" width="1" height="3" fill="#0c8438"/><rect x="800" y="112" width="4" height="1" fill="#0c8438"/><rect x="807" y="111" width="1" height="1" fill="#930c25"/><rect x="807" y="114" width="1" height="4" fill="#930c25"/><rect x="805" y="112" width="4" height="2" fill="#930c25"/><rect x="812" y="109" width="1" height="2" fill="#0c8438"/><rect x="812" y="115" width="1" height="1" fill="#0c8438"/><rect x="810" y="111" width="4" height="4" fill="#0c8438"/><rect x="811" y="112" width="2" height="2" fill="#13a447"/><rect x="817" y="109" width="1" height="2" fill="#930c25"/><rect x="817" y="122" width="1" height="1" fill="#930c25"/><rect x="815" y="111" width="4" height="11" fill="#930c25"/><rect x="816" y="112" width="2" height="9" fill="#c31433"/><rect x="822" y="115" width="1" height="1" fill="#0c8438"/><rect x="822" y="122" width="1" height="1" fill="#0c8438"/><rect x="820" y="116" width="4" height="6" fill="#0c8438"/><rect x="821" y="117" width="2" height="4" fill="#13a447"/><rect x="828" y="117" width="1" height="3" fill="#0c8438"/><rect x="826" y="108" width="4" height="9" fill="#0c8438"/><rect x="827" y="109" width="2" height="7" fill="#13a447"/><rect x="833" y="106" width="1" height="2" fill="#930c25"/><rect x="831" y="108" width="4" height="2" fill="#930c25"/><rect x="838" y="105" width="1" height="1" fill="#0c8438"/><rect x="836" y="106" width="4" height="4" fill="#0c8438"/><rect x="837" y="107" width="2" height="2" fill="#13a447"/><rect x="843" y="107" width="1" height="2" fill="#0c8438"/><rect x="841" y="102" width="4" height="5" fill="#0c8438"/><rect x="842" y="103" width="2" height="3" fill="#13a447"/><rect x="846" y="102" width="4" height="2" fill="#930c25"/><rect x="853" y="104" width="1" height="2" fill="#0c8438"/><rect x="851" y="103" width="4" height="1" fill="#0c8438"/><rect x="858" y="101" width="1" height="1" fill="#0c8438"/><rect x="858" y="103" width="1" height="1" fill="#0c8438"/><rect x="856" y="102" width="4" height="1" fill="#0c8438"/><rect x="863" y="103" width="1" height="2" fill="#0c8438"/><rect x="861" y="99" width="4" height="4" fill="#0c8438"/><rect x="862" y="100" width="2" height="2" fill="#13a447"/><rect x="866" y="97" width="4" height="3" fill="#0c8438"/><rect x="867" y="98" width="2" height="1" fill="#13a447"/><rect x="873" y="98" width="1" height="1" fill="#930c25"/><rect x="871" y="97" width="4" height="1" fill="#930c25"/><rect x="876" y="96" width="4" height="2" fill="#0c8438"/><rect x="881" y="95" width="4" height="2" fill="#930c25"/><rect x="888" y="93" width="1" height="2" fill="#930c25"/><rect x="886" y="95" width="4" height="3" fill="#930c25"/><rect x="887" y="96" width="2" height="1" fill="#c31433"/><rect x="893" y="96" width="1" height="2" fill="#930c25"/><rect x="891" y="98" width="4" height="1" fill="#930c25"/><rect x="898" y="94" width="1" height="2" fill="#0c8438"/><rect x="896" y="96" width="4" height="2" fill="#0c8438"/><rect x="903" y="94" width="1" height="2" fill="#930c25"/><rect x="903" y="97" width="1" height="2" fill="#930c25"/><rect x="901" y="96" width="4" height="1" fill="#930c25"/><rect x="908" y="90" width="1" height="1" fill="#0c8438"/><rect x="906" y="91" width="4" height="6" fill="#0c8438"/><rect x="907" y="92" width="2" height="4" fill="#13a447"/><rect x="913" y="85" width="1" height="1" fill="#0c8438"/><rect x="911" y="86" width="4" height="6" fill="#0c8438"/><rect x="912" y="87" width="2" height="4" fill="#13a447"/><rect x="916" y="82" width="4" height="5" fill="#0c8438"/><rect x="917" y="83" width="2" height="3" fill="#13a447"/><rect x="923" y="78" width="1" height="1" fill="#0c8438"/><rect x="921" y="79" width="4" height="4" fill="#0c8438"/><rect x="922" y="80" width="2" height="2" fill="#13a447"/><rect x="928" y="74" width="1" height="2" fill="#0c8438"/><rect x="928" y="80" width="1" height="1" fill="#0c8438"/><rect x="926" y="76" width="4" height="4" fill="#0c8438"/><rect x="927" y="77" width="2" height="2" fill="#13a447"/><rect x="933" y="73" width="1" height="1" fill="#0c8438"/><rect x="933" y="77" width="1" height="1" fill="#0c8438"/><rect x="931" y="74" width="4" height="3" fill="#0c8438"/><rect x="932" y="75" width="2" height="1" fill="#13a447"/><rect x="938" y="74" width="1" height="6" fill="#0c8438"/><rect x="936" y="72" width="4" height="2" fill="#0c8438"/><rect x="943" y="66" width="1" height="2" fill="#0c8438"/><rect x="941" y="68" width="4" height="5" fill="#0c8438"/><rect x="942" y="69" width="2" height="3" fill="#13a447"/><rect x="948" y="62" width="1" height="5" fill="#0c8438"/><rect x="946" y="67" width="4" height="1" fill="#0c8438"/><rect x="953" y="56" width="1" height="1" fill="#0c8438"/><rect x="951" y="57" width="4" height="11" fill="#0c8438"/><rect x="952" y="58" width="2" height="9" fill="#13a447"/><rect x="958" y="52" width="1" height="1" fill="#0c8438"/><rect x="956" y="53" width="4" height="5" fill="#0c8438"/><rect x="957" y="54" width="2" height="3" fill="#13a447"/><rect x="963" y="51" width="1" height="1" fill="#0c8438"/><rect x="963" y="53" width="1" height="6" fill="#0c8438"/><rect x="961" y="52" width="4" height="1" fill="#0c8438"/><rect x="968" y="52" width="1" height="2" fill="#0c8438"/><rect x="966" y="44" width="4" height="8" fill="#0c8438"/><rect x="967" y="45" width="2" height="6" fill="#13a447"/><rect x="973" y="42" width="1" height="2" fill="#0c8438"/><rect x="971" y="44" width="4" height="1" fill="#0c8438"/><rect x="979" y="40" width="1" height="3" fill="#930c25"/><rect x="979" y="50" width="1" height="4" fill="#930c25"/><rect x="977" y="43" width="4" height="7" fill="#930c25"/><rect x="978" y="44" width="2" height="5" fill="#c31433"/><rect x="984" y="37" width="1" height="1" fill="#0c8438"/><rect x="984" y="50" width="1" height="5" fill="#0c8438"/><rect x="982" y="38" width="4" height="12" fill="#0c8438"/><rect x="983" y="39" width="2" height="10" fill="#13a447"/><rect x="989" y="33" width="1" height="2" fill="#0c8438"/><rect x="987" y="35" width="4" height="3" fill="#0c8438"/><rect x="988" y="36" width="2" height="1" fill="#13a447"/><rect x="992" y="31" width="4" height="5" fill="#0c8438"/><rect x="993" y="32" width="2" height="3" fill="#13a447"/><rect x="999" y="29" width="1" height="2" fill="#930c25"/><rect x="997" y="31" width="4" height="5" fill="#930c25"/><rect x="998" y="32" width="2" height="3" fill="#c31433"/><rect x="1004" y="36" width="1" height="1" fill="#0c8438"/><rect x="1002" y="27" width="4" height="9" fill="#0c8438"/><rect x="1003" y="28" width="2" height="7" fill="#13a447"/><rect x="1009" y="24" width="1" height="3" fill="#0c8438"/><rect x="1009" y="28" width="1" height="4" fill="#0c8438"/><rect x="1007" y="27" width="4" height="1" fill="#0c8438"/><rect x="1014" y="25" width="1" height="1" fill="#930c25"/><rect x="1014" y="28" width="1" height="5" fill="#930c25"/><rect x="1012" y="26" width="4" height="2" fill="#930c25"/><rect x="1019" y="25" width="1" height="3" fill="#930c25"/><rect x="1017" y="28" width="4" height="1" fill="#930c25"/><rect x="1024" y="34" width="1" height="3" fill="#930c25"/><rect x="1022" y="28" width="4" height="6" fill="#930c25"/><rect x="1023" y="29" width="2" height="4" fill="#c31433"/><rect x="1029" y="31" width="1" height="2" fill="#930c25"/><rect x="1029" y="42" width="1" height="3" fill="#930c25"/><rect x="1027" y="33" width="4" height="9" fill="#930c25"/><rect x="1028" y="34" width="2" height="7" fill="#c31433"/><rect x="1034" y="34" width="1" height="4" fill="#0c8438"/><rect x="1034" y="42" width="1" height="3" fill="#0c8438"/><rect x="1032" y="38" width="4" height="4" fill="#0c8438"/><rect x="1033" y="39" width="2" height="2" fill="#13a447"/><rect x="1039" y="49" width="1" height="4" fill="#930c25"/><rect x="1037" y="38" width="4" height="11" fill="#930c25"/><rect x="1038" y="39" width="2" height="9" fill="#c31433"/><rect x="1044" y="40" width="1" height="2" fill="#0c8438"/><rect x="1042" y="42" width="4" height="7" fill="#0c8438"/><rect x="1043" y="43" width="2" height="5" fill="#13a447"/><rect x="1049" y="40" width="1" height="2" fill="#930c25"/><rect x="1049" y="43" width="1" height="3" fill="#930c25"/><rect x="1047" y="42" width="4" height="1" fill="#930c25"/><rect x="1054" y="52" width="1" height="1" fill="#930c25"/><rect x="1052" y="42" width="4" height="10" fill="#930c25"/><rect x="1053" y="43" width="2" height="8" fill="#c31433"/><rect x="1059" y="50" width="1" height="1" fill="#930c25"/><rect x="1059" y="63" width="1" height="2" fill="#930c25"/><rect x="1057" y="51" width="4" height="12" fill="#930c25"/><rect x="1058" y="52" width="2" height="10" fill="#c31433"/><rect x="1064" y="53" width="1" height="5" fill="#0c8438"/><rect x="1064" y="63" width="1" height="3" fill="#0c8438"/><rect x="1062" y="58" width="4" height="5" fill="#0c8438"/><rect x="1063" y="59" width="2" height="3" fill="#13a447"/><rect x="1069" y="54" width="1" height="4" fill="#930c25"/><rect x="1069" y="60" width="1" height="4" fill="#930c25"/><rect x="1067" y="58" width="4" height="2" fill="#930c25"/><rect x="1074" y="49" width="1" height="3" fill="#0c8438"/><rect x="1072" y="52" width="4" height="9" fill="#0c8438"/><rect x="1073" y="53" width="2" height="7" fill="#13a447"/><rect x="1079" y="48" width="1" height="2" fill="#0c8438"/><rect x="1077" y="50" width="4" height="2" fill="#0c8438"/><rect x="1082" y="44" width="4" height="6" fill="#0c8438"/><rect x="1083" y="45" width="2" height="4" fill="#13a447"/><rect x="1089" y="41" width="1" height="3" fill="#0c8438"/><rect x="1087" y="44" width="4" height="1" fill="#0c8438"/><rect x="1094" y="44" width="1" height="2" fill="#0c8438"/><rect x="1092" y="42" width="4" height="2" fill="#0c8438"/><rect x="1099" y="44" width="1" height="2" fill="#930c25"/><rect x="1097" y="42" width="4" height="2" fill="#930c25"/><rect x="1104" y="38" width="1" height="1" fill="#0c8438"/><rect x="1102" y="39" width="4" height="5" fill="#0c8438"/><rect x="1103" y="40" width="2" height="3" fill="#13a447"/><rect x="1109" y="38" width="1" height="1" fill="#930c25"/><rect x="1109" y="40" width="1" height="1" fill="#930c25"/><rect x="1107" y="39" width="4" height="1" fill="#930c25"/><rect x="1114" y="38" width="1" height="2" fill="#0c8438"/><rect x="1114" y="41" width="1" height="1" fill="#0c8438"/><rect x="1112" y="40" width="4" height="1" fill="#0c8438"/><rect x="1119" y="37" width="1" height="1" fill="#0c8438"/><rect x="1117" y="38" width="4" height="3" fill="#0c8438"/><rect x="1118" y="39" width="2" height="1" fill="#13a447"/><rect x="1124" y="35" width="1" height="2" fill="#0c8438"/><rect x="1124" y="38" width="1" height="3" fill="#0c8438"/><rect x="1122" y="37" width="4" height="1" fill="#0c8438"/><rect x="1130" y="34" width="1" height="1" fill="#0c8438"/><rect x="1128" y="35" width="4" height="2" fill="#0c8438"/><rect x="1135" y="33" width="1" height="1" fill="#930c25"/><rect x="1135" y="37" width="1" height="1" fill="#930c25"/><rect x="1133" y="34" width="4" height="3" fill="#930c25"/><rect x="1134" y="35" width="2" height="1" fill="#c31433"/><rect x="1140" y="37" width="1" height="1" fill="#0c8438"/><rect x="1138" y="33" width="4" height="4" fill="#0c8438"/><rect x="1139" y="34" width="2" height="2" fill="#13a447"/><rect x="1143" y="29" width="4" height="5" fill="#0c8438"/><rect x="1144" y="30" width="2" height="3" fill="#13a447"/><rect x="1150" y="27" width="1" height="2" fill="#0c8438"/><rect x="1150" y="30" width="1" height="2" fill="#0c8438"/><rect x="1148" y="29" width="4" height="1" fill="#0c8438"/><rect x="1155" y="24" width="1" height="2" fill="#0c8438"/><rect x="1153" y="26" width="4" height="4" fill="#0c8438"/><rect x="1154" y="27" width="2" height="2" fill="#13a447"/><rect x="1160" y="24" width="1" height="1" fill="#0c8438"/><rect x="1160" y="26" width="1" height="4" fill="#0c8438"/><rect x="1158" y="25" width="4" height="1" fill="#0c8438"/><rect x="1165" y="23" width="1" height="2" fill="#930c25"/><rect x="1165" y="28" width="1" height="2" fill="#930c25"/><rect x="1163" y="25" width="4" height="3" fill="#930c25"/><rect x="1164" y="26" width="2" height="1" fill="#c31433"/><rect x="1170" y="34" width="1" height="2" fill="#930c25"/><rect x="1168" y="27" width="4" height="7" fill="#930c25"/><rect x="1169" y="28" width="2" height="5" fill="#c31433"/><rect x="1175" y="28" width="1" height="5" fill="#930c25"/><rect x="1173" y="33" width="4" height="3" fill="#930c25"/><rect x="1174" y="34" width="2" height="1" fill="#c31433"/><rect x="1180" y="42" width="1" height="2" fill="#930c25"/><rect x="1178" y="35" width="4" height="7" fill="#930c25"/><rect x="1179" y="36" width="2" height="5" fill="#c31433"/><rect x="1185" y="57" width="1" height="11" fill="#930c25"/><rect x="1183" y="41" width="4" height="16" fill="#930c25"/><rect x="1184" y="42" width="2" height="14" fill="#c31433"/><rect x="1190" y="53" width="1" height="3" fill="#930c25"/><rect x="1190" y="64" width="1" height="10" fill="#930c25"/><rect x="1188" y="56" width="4" height="8" fill="#930c25"/><rect x="1189" y="57" width="2" height="6" fill="#c31433"/><rect x="1195" y="53" width="1" height="2" fill="#0c8438"/><rect x="1193" y="55" width="4" height="10" fill="#0c8438"/><rect x="1194" y="56" width="2" height="8" fill="#13a447"/><rect x="1198" y="51" width="2" height="5" fill="#0c8438"/>
<g shape-rendering="auto"><path d="M985 450 L998 450 L1002 449 L1009 449 M1011 449 L1016 449 L1020 450 L1030 450" stroke="#3a5fae" stroke-width="1" fill="none"/>
<path d="M1122 450 L1145 450 L1152 449 L1165 449 L1170 450 L1181 450" stroke="#3a5fae" stroke-width="1" fill="none"/>
<g fill="#c8d0e4"><rect x="967" y="449" width="1" height="1"/><rect x="972" y="449" width="1" height="1"/><rect x="977" y="449" width="1" height="1"/>
<rect x="1035" y="449" width="1" height="1"/><rect x="1044" y="449" width="1" height="1"/><rect x="1050" y="449" width="1" height="1"/><rect x="1083" y="449" width="1" height="1"/></g><circle cx="83" cy="264.7" r="3.7" fill="#0a0a5e"/><path d="M78.8 416 L78.8 415.4 A4.2 4.2 0 0 1 87.2 415.4 L87.2 416 Z" fill="#0a0a5e"/><path d="M80.5 398.5 L77.2 393.8 L75.3 390.8 L75.8 389.8 L77.3 389.9 L78.8 391.2 L77.5 386.5 L77.6 385 L78.8 384.4 L80 384.8 L80.6 383.5 L81.8 383 L83 383.4 L83.6 384.5 L84.6 384 L85.9 384.3 L86.6 385.6 L87.4 386.5 L88.6 386.3 L89.8 386.9 L90.3 388.2 L89.7 392.5 L88.8 395.8 L87.6 398.5" fill="#ffffff" stroke="#000" stroke-width="1.2" stroke-linejoin="round"/>
<path d="M81.2 384.8 L81.3 388.6 M84.3 384.5 L84.4 388.5 M87.6 386.7 L87.7 389.6 M78.8 391.2 L79.6 390.6" stroke="#000" stroke-width="1.1" fill="none"/><polygon points="1183.9,333.5 1185.5,332.4 1213.1,373.1 1210.3,375" fill="#cc0e1d"/><circle cx="1184.7" cy="333" r="0.95" fill="#cc0e1d"/><circle cx="1211.7" cy="374" r="1.65" fill="#cc0e1d"/></g>
<rect x="84" y="11" width="10" height="5" fill="#213a9a"/>
<rect x="7" y="321" width="10" height="5" fill="#213a9a"/>
</svg>
<div class="t" style="left:8px;top:9px;font-size:9px;color:#555">Oct 1, 1953 :</div>
<div class="t" style="left:96px;top:9px;font-size:9px;color:#18226a;letter-spacing:-0.3px;word-spacing:2.5px">^GSPC 24.81</div>
<div class="t" style="left:6.5px;top:284px;font-size:10.5px;font-weight:normal;color:#8e8e8e;font-family:'Liberation Sans',sans-serif;transform:scaleX(0.935);transform-origin:0 0">© 2008 Yahoo! Inc.</div>
<div class="t" style="left:19px;top:321px;font-size:9px;color:#18226a;letter-spacing:-0.25px;word-spacing:2px">Volume 1,450,820</div>
<div id="xl"></div>
<div class="t" style="left:1.5px;top:303px;font-size:9px;color:#333">1950</div><div class="t" style="left:90.5px;top:303px;font-size:9px;color:#333">1955</div><div class="t" style="left:190.5px;top:303px;font-size:9px;color:#333">1960</div><div class="t" style="left:291.5px;top:303px;font-size:9px;color:#333">1965</div><div class="t" style="left:392.5px;top:303px;font-size:9px;color:#333">1970</div><div class="t" style="left:492.5px;top:303px;font-size:9px;color:#333">1975</div><div class="t" style="left:593.5px;top:303px;font-size:9px;color:#333">1980</div><div class="t" style="left:694.5px;top:303px;font-size:9px;color:#333">1985</div><div class="t" style="left:794.5px;top:303px;font-size:9px;color:#333">1990</div><div class="t" style="left:895.5px;top:303px;font-size:9px;color:#333">1995</div><div class="t" style="left:996.5px;top:303px;font-size:9px;color:#333">2000</div><div class="t" style="left:1096.5px;top:303px;font-size:9px;color:#333">2005</div>
<div class="t c" style="left:1202px;top:27px;font-size:9px;color:#222;-webkit-text-stroke:0.25px #222">1.40</div><div class="t c" style="left:1202px;top:36px;font-size:9px;color:#222;-webkit-text-stroke:0.25px #222">1.20</div><div class="t c" style="left:1202px;top:46px;font-size:9px;color:#222;-webkit-text-stroke:0.25px #222">1K</div><div class="t c" style="left:1202px;top:60px;font-size:9px;color:#222;-webkit-text-stroke:0.25px #222">0.80</div><div class="t c" style="left:1202px;top:77px;font-size:9px;color:#222;-webkit-text-stroke:0.25px #222">0.60</div><div class="t c" style="left:1202px;top:102px;font-size:9px;color:#222;-webkit-text-stroke:0.25px #222">0.40</div><div class="t c" style="left:1202px;top:142px;font-size:9px;color:#222;-webkit-text-stroke:0.25px #222">0.20</div><div class="t c" style="left:1202px;top:351px;font-size:9px;color:#222;-webkit-text-stroke:0.25px #222">6B</div><div class="t c" style="left:1202px;top:372px;font-size:9px;color:#222;-webkit-text-stroke:0.25px #222">4B</div><div class="t c" style="left:1202px;top:392px;font-size:9px;color:#222;-webkit-text-stroke:0.25px #222">2B</div>
<div class="btns"><span>1D</span><span>5D</span><span>1M</span><span>3M</span><span>6M</span><span>YTD</span><span>1Y</span><span>2Y</span><span>5Y</span><span class="on">Max</span></div>
<div class="lbl" style="left:1002px">FROM:</div>
<div class="inp" style="left:1038px;width:63px;text-indent:2px">Jan 3 1950</div>
<div class="lbl" style="left:1109px">TO:</div>
<div class="inp" style="left:1129px;width:63px;text-indent:4px">Jul 1 2009</div>
<div style="position:absolute;left:1211px;top:317px;width:14px;height:11px;border:1px solid #8c8c8c;border-radius:3px;background:linear-gradient(#f2f2f2,#d8d8d8)"></div>
<div id="xb" style="position:absolute;left:1213.5px;top:317px;font:11px 'DejaVu Sans',sans-serif;line-height:14px;color:#222">×</div>
</body></html>
